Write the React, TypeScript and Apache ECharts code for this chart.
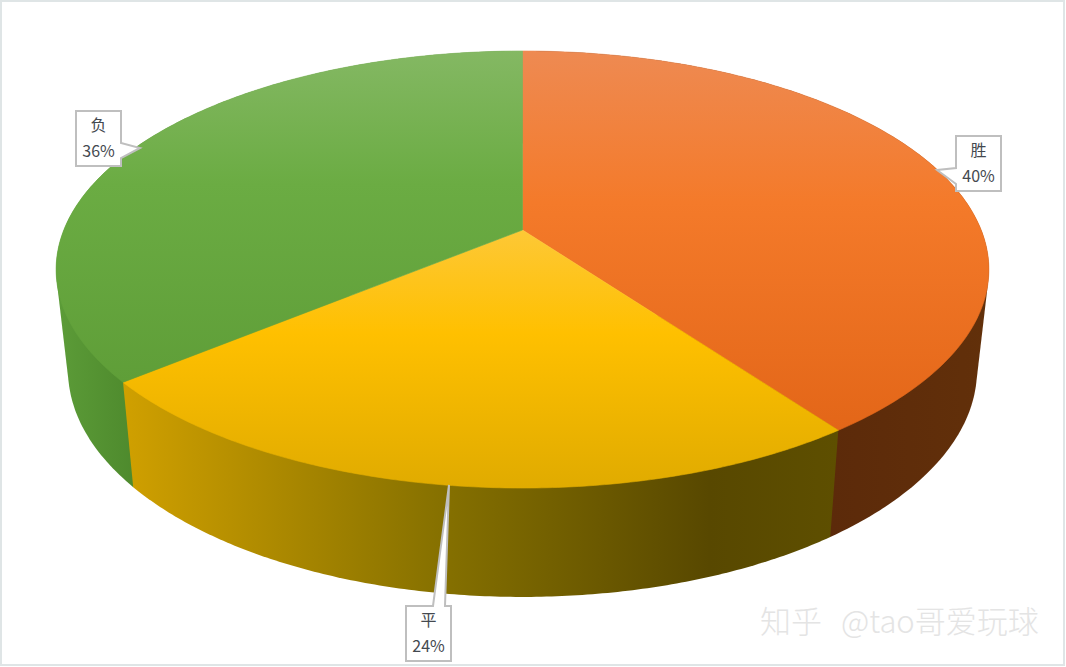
import React, { useEffect, useRef } from "react";
import * as echarts from "echarts";

// ---- data ----
const categories = ["胜", "平", "负"];
const shares = [40, 24, 36];

// ---- styles ----
const topStops = [
  ["#EE8A52", "#F47A2A", "#E36618"],
  ["#FDC836", "#FFC000", "#E0AB00"],
  ["#84B863", "#6BAC43", "#5F9E38"],
];
const sideStops: [number, string][][] = [
  [[0, "#5C2A0A"], [1, "#62300A"]],
  [[0, "#D0A000"], [0.45, "#857000"], [0.82, "#584800"], [1, "#5E4F00"]],
  [[0, "#5C9C38"], [1, "#4E8A2D"]],
];

// perspective projection of the pie's unit disc on to the page
const K = 0.1808;
const CX = 522.5;
const project = (u: number, v: number, cw: number, a: number, b: number) => {
  const w = 1 - K * v;
  return [CX + (cw * u) / w, (a + b * v) / w];
};
const topPoint = (t: number) => project(Math.sin(t), -Math.cos(t), 458.7, 230, 169.8);
const basePoint = (t: number) => project(Math.sin(t), -Math.cos(t), 447, 329, 160);

const total = shares.reduce((s, x) => s + x, 0);
const sweep = (i: number) => {
  const before = shares.slice(0, i).reduce((s, x) => s + x, 0);
  return [(before / total) * Math.PI * 2, ((before + shares[i]) / total) * Math.PI * 2];
};
const arc = (i: number, f: (t: number) => number[]) => {
  const [a, b] = sweep(i);
  const n = 160;
  const pts: number[][] = [];
  for (let k = 0; k <= n; k++) pts.push(f(a + ((b - a) * k) / n));
  return pts;
};

// convex outline of a slice's wall: its back part is hidden under the top face
function hull(points: number[][]) {
  const p = [...points].sort((a, b) => a[0] - b[0] || a[1] - b[1]);
  const cross = (o: number[], a: number[], b: number[]) =>
    (a[0] - o[0]) * (b[1] - o[1]) - (a[1] - o[1]) * (b[0] - o[0]);
  const half = (list: number[][]) => {
    const out: number[][] = [];
    for (const q of list) {
      while (out.length >= 2 && cross(out[out.length - 2], out[out.length - 1], q) <= 0) out.pop();
      out.push(q);
    }
    out.pop();
    return out;
  };
  return [...half(p), ...half([...p].reverse())];
}

// horizontal extent of the part of a slice's wall that faces the viewer
function wallRange(i: number) {
  const [a, b] = sweep(i);
  const from = Math.max(a, Math.PI * 0.4);
  const to = Math.min(b, Math.PI * 1.6);
  const xs: number[] = [];
  for (let k = 0; k <= 80; k++) {
    const t = from + ((to - from) * k) / 80;
    xs.push(topPoint(t)[0], basePoint(t)[0]);
  }
  return [Math.min(...xs), Math.max(...xs)];
}

const callouts = [
  { box: [956, 136, 45, 55], pointer: [[956, 168], [937, 170], [956, 184]] },
  { box: [406, 606, 45, 55], pointer: [[445, 606], [449, 485], [433, 606]] },
  { box: [76, 111, 45, 55], pointer: [[121, 143], [140, 148], [121, 158]] },
];

function calloutPoints(i: number) {
  const { box, pointer } = callouts[i];
  const [x, y, w, h] = box;
  if (i === 0) return [[x, y], [x + w, y], [x + w, y + h], [x, y + h], pointer[2], pointer[1], pointer[0]];
  if (i === 1) return [[x, y], pointer[2], pointer[1], pointer[0], [x + w, y], [x + w, y + h], [x, y + h]];
  return [[x, y], [x + w, y], pointer[0], pointer[1], pointer[2], [x + w, y + h], [x, y + h]];
}

const FONT = "'Noto Sans CJK SC', 'Noto Sans', sans-serif";
const markStyle = {
  fill: "#E4E4E4",
  shadowColor: "#B4B4B4",
  shadowOffsetX: 1,
  shadowOffsetY: 1,
  shadowBlur: 0,
  font: `300 31px ${FONT}`,
};

export default function App() {
  const ref = useRef<HTMLDivElement>(null);
  useEffect(() => {
    const chart = echarts.init(ref.current!, undefined, { renderer: "svg" });
    const seriesData = shares.map((v, i) => ({ name: categories[i], value: v }));
    chart.setOption({
      animation: false,
      backgroundColor: "#ffffff",
      graphic: [
        {
          type: "rect",
          z: 0,
          shape: { x: 1, y: 1, width: 1063, height: 664 },
          style: { fill: "none", stroke: "#DFE5E6", lineWidth: 2 },
        },
        { type: "text", z: 10, x: 760, y: 604, style: { text: "知乎", ...markStyle } },
        { type: "text", z: 10, x: 841, y: 604, style: { text: "@tao哥爱玩球", ...markStyle } },
      ],
      series: [
        {
          type: "custom",
          coordinateSystem: "none",
          z: 1,
          data: seriesData,
          renderItem: (params: any) => {
            const i = params.dataIndex;
            const points = hull([...arc(i, topPoint), ...arc(i, basePoint)]);
            const [x0, x1] = wallRange(i);
            const fill = new echarts.graphic.LinearGradient(
              x0, 0, x1, 0,
              sideStops[i].map(([offset, color]) => ({ offset, color })),
              true
            );
            return {
              type: "polygon",
              // the front slice goes last so that its wall covers its neighbours' hulls
              z2: i === 1 ? 3 : 1,
              shape: { points },
              style: { fill },
            };
          },
        },
        {
          type: "custom",
          coordinateSystem: "none",
          z: 2,
          data: seriesData,
          renderItem: (params: any) => {
            const i = params.dataIndex;
            const points = [project(0, 0, 458.7, 230, 169.8), ...arc(i, topPoint)];
            const s = topStops[i];
            const fill = new echarts.graphic.LinearGradient(0, 0, 0, 1, [
              { offset: 0, color: s[0] },
              { offset: 0.4, color: s[1] },
              { offset: 1, color: s[2] },
            ]);
            return {
              type: "polygon",
              shape: { points },
              style: { fill, stroke: fill, lineWidth: 0.6 },
            };
          },
        },
        {
          type: "custom",
          coordinateSystem: "none",
          z: 3,
          data: seriesData,
          renderItem: (params: any, api: any) => {
            const i = params.dataIndex;
            const [x, y, w] = callouts[i].box;
            const pct = Math.round((api.value(0) / total) * 100);
            const textStyle = (text: string, dy: number) => ({
              type: "text",
              x: x + w / 2,
              y: y + dy,
              style: {
                text,
                fill: "#44494F",
                font: `16px ${FONT}`,
                align: "center",
                verticalAlign: "middle",
              },
            });
            return {
              type: "group",
              children: [
                {
                  type: "polygon",
                  shape: { points: calloutPoints(i) },
                  style: { fill: "#ffffff", stroke: "#BFBFBF", lineWidth: 2 },
                },
                textStyle(categories[i], 13),
                textStyle(`${pct}%`, 39),
              ],
            };
          },
        },
      ],
    });
    return () => chart.dispose();
  }, []);
  return <div ref={ref} style={{ position: "fixed", left: 0, top: 0, width: 1066, height: 667 }} />;
}
